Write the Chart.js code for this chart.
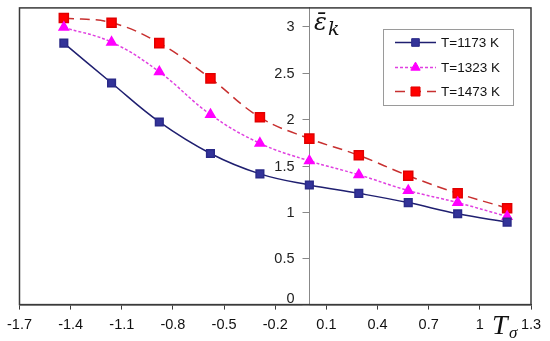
<!DOCTYPE html>
<html>
<head>
<meta charset="utf-8">
<script src="https://cdn.jsdelivr.net/npm/chart.js@4/dist/chart.umd.min.js"></script>
<style>
  html, body { margin: 0; padding: 0; background: #fff; }
  #wrap { width: 550px; height: 341px; }
</style>
</head>
<body>
<div id="wrap"><canvas id="c" width="550" height="341"></canvas></div>
<script>
const tSigma = [-1.44, -1.16, -0.88, -0.58, -0.29, 0, 0.29, 0.58, 0.87, 1.16];
const eps1173 = [2.82, 2.39, 1.97, 1.63, 1.41, 1.29, 1.20, 1.10, 0.98, 0.89];
const eps1323 = [2.99, 2.83, 2.51, 2.05, 1.74, 1.55, 1.40, 1.23, 1.10, 0.95];
const eps1473 = [3.09, 3.04, 2.82, 2.44, 2.02, 1.79, 1.61, 1.39, 1.20, 1.04];
const seriesLabels = ['T=1173 K', 'T=1323 K', 'T=1473 K'];
const xTicks = [-1.7, -1.4, -1.1, -0.8, -0.5, -0.2, 0.1, 0.4, 0.7, 1, 1.3];
const yTicks = [0, 0.5, 1, 1.5, 2, 2.5, 3];

const pts = arr => arr.map((v, i) => ({x: tSigma[i], y: v}));

const frame = {
  id: 'frame',
  afterDraw(chart) {
    const {ctx, chartArea: a} = chart;
    const xs = chart.scales.x, ys = chart.scales.y;
    ctx.save();
    ctx.strokeStyle = '#3a3a3a';
    ctx.lineWidth = 1.5;
    ctx.strokeRect(a.left, a.top, a.right - a.left, a.bottom - a.top);

    // y-axis ticks and labels, left of the axis crossing x = 0
    const x0 = Math.round(xs.getPixelForValue(0)) + 0.5;
    ctx.strokeStyle = '#888';
    ctx.lineWidth = 1;
    ctx.fillStyle = '#222';
    ctx.font = '14.5px "Liberation Sans"';
    ctx.textAlign = 'right';
    ctx.textBaseline = 'middle';
    yTicks.forEach(v => {
      const py = Math.round(ys.getPixelForValue(v)) + 0.5;
      ctx.beginPath();
      ctx.moveTo(x0 - 7, py);
      ctx.lineTo(x0, py);
      ctx.stroke();
      ctx.fillText(String(v), x0 - 15, v === 0 ? py - 7 : py);
    });

    // axis titles
    ctx.fillStyle = '#111';
    ctx.textBaseline = 'alphabetic';
    ctx.textAlign = 'left';
    ctx.font = 'italic 24px "DejaVu Serif"';
    ctx.fillText('\u03B5\u0304', 314, 30);
    ctx.font = 'italic 19px "DejaVu Serif"';
    ctx.fillText('k', 328, 35);
    ctx.font = 'italic 28px "Liberation Serif"';
    ctx.fillText('T', 492, 334);
    ctx.font = 'italic 17px "Liberation Serif"';
    ctx.fillText('\u03C3', 509, 338);

    // legend
    const lx = 383, ly = 29, lw = 130, lh = 76;
    ctx.fillStyle = '#fff';
    ctx.fillRect(lx, ly, lw, lh);
    ctx.strokeStyle = '#9a9a9a';
    ctx.lineWidth = 1;
    ctx.strokeRect(lx + 0.5, ly + 0.5, lw, lh);
    const rows = [42.5, 67.5, 91.5];
    chart.data.datasets.forEach((ds, i) => {
      const y = rows[i];
      ctx.save();
      ctx.strokeStyle = ds.borderColor;
      ctx.lineWidth = ds.borderWidth;
      ctx.setLineDash(ds.borderDash || []);
      ctx.beginPath();
      ctx.moveTo(395, y);
      ctx.lineTo(436, y);
      ctx.stroke();
      ctx.restore();
      ctx.save();
      ctx.fillStyle = ds.pointBackgroundColor;
      ctx.strokeStyle = ds.pointBorderColor;
      ctx.lineWidth = 1;
      ctx.setLineDash([]);
      Chart.helpers.drawPoint(ctx, {pointStyle: ds.pointStyle, radius: ds.pointRadius, borderWidth: 1, rotation: 0}, 415.5, y);
      ctx.restore();
      ctx.fillStyle = '#111';
      ctx.font = '13.5px "Liberation Sans"';
      ctx.textAlign = 'left';
      ctx.textBaseline = 'middle';
      ctx.fillText(ds.label, 441, y + 1);
    });
    ctx.restore();
  }
};

new Chart(document.getElementById('c'), {
  type: 'line',
  data: {
    datasets: [
      {
        label: seriesLabels[0], data: pts(eps1173),
        borderColor: '#1f1f70', borderWidth: 1.5,
        pointStyle: 'rect', pointRadius: 5.4,
        pointBackgroundColor: '#333399', pointBorderColor: '#2a2a88',
        tension: 0.4
      },
      {
        label: seriesLabels[1], data: pts(eps1323),
        borderColor: '#e040e0', borderWidth: 1.5, borderDash: [3, 2],
        pointStyle: 'triangle', pointRadius: 5.4,
        pointBackgroundColor: '#ff00ff', pointBorderColor: '#ff00ff',
        tension: 0.4
      },
      {
        label: seriesLabels[2], data: pts(eps1473),
        borderColor: '#c83030', borderWidth: 1.5, borderDash: [10, 6],
        pointStyle: 'rect', pointRadius: 6.4,
        pointBackgroundColor: '#ff0000', pointBorderColor: '#e00000',
        tension: 0.4
      }
    ]
  },
  options: {
    responsive: false,
    animation: false,
    layout: { padding: { left: 17, right: 19, top: 5, bottom: 0 } },
    plugins: { legend: { display: false }, tooltip: { enabled: false } },
    scales: {
      x: {
        type: 'linear', min: -1.7, max: 1.3,
        afterBuildTicks: s => { s.ticks = xTicks.map(v => ({value: v})); },
        ticks: {
          color: '#111', font: { family: 'Liberation Sans', size: 14.5 },
          padding: 7, maxRotation: 0, autoSkip: false,
          callback: v => String(Math.round(v * 10) / 10)
        },
        grid: { drawOnChartArea: false, drawTicks: true, tickLength: 5, color: '#3a3a3a', lineWidth: 1 },
        border: { display: true, color: '#3a3a3a', width: 1.5 }
      },
      y: {
        type: 'linear', min: 0, max: 3.2,
        position: { x: 0 },
        afterBuildTicks: s => { s.ticks = yTicks.map(v => ({value: v})); },
        ticks: { display: false },
        grid: { drawOnChartArea: false, drawTicks: false },
        border: { display: true, color: '#888', width: 1 }
      }
    }
  },
  plugins: [frame]
});
</script>
</body>
</html>
